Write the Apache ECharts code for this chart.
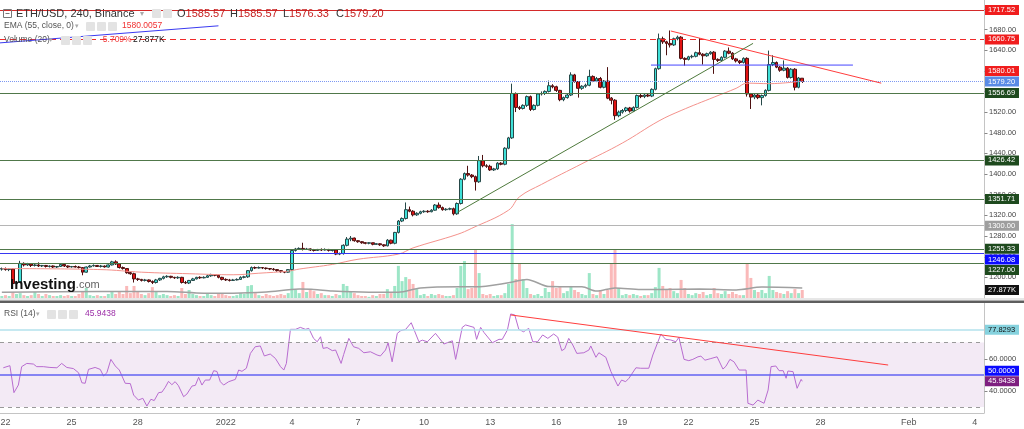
<!DOCTYPE html>
<html><head><meta charset="utf-8">
<script src="https://cdn.jsdelivr.net/npm/echarts/dist/echarts.min.js"></script>
<style>html,body{margin:0;padding:0;background:#fff;}#c{width:1024px;height:429px;}</style>
</head><body><div id="c"></div>
<script>
// ---------------- DATA ----------------
const START = Date.UTC(2021, 11, 21, 20); // first 4h slot
const SLOTS = 268;
const categories = Array.from({length: SLOTS}, (_, i) => new Date(START + i * 4 * 3600e3).toISOString().slice(0, 13));
const xTickDates  = ['2021-12-22','2021-12-25','2021-12-28','2022-01-01','2022-01-04','2022-01-07','2022-01-10','2022-01-13','2022-01-16','2022-01-19','2022-01-22','2022-01-25','2022-01-28','2022-02-01','2022-02-04'];
const xTickLabels = ['22','25','28','2022','4','7','10','13','16','19','22','25','28','Feb','4'];
const priceTicks = [1200,1240,1280,1320,1360,1400,1440,1480,1520,1560,1600,1640,1680,1720];
const rsiTicks = [40, 60];

// [open, close, low, high]
const candles = [
[1216,1217,1213,1219],[1217,1215,1213,1219],[1215,1216,1212,1218],[1216,1188,1185,1218],[1188,1190,1186,1193],
[1190,1227,1189,1232],[1227,1224,1221,1229],[1224,1226,1222,1228],[1226,1223,1220,1227],[1223,1224,1221,1226],
[1224,1222,1220,1229],[1222,1223,1220,1224],[1223,1221,1219,1224],[1221,1222,1219,1223],[1222,1220,1218,1223],
[1220,1221,1218,1222],[1221,1225,1220,1226],[1225,1222,1220,1226],[1222,1220,1218,1223],[1220,1221,1219,1222],
[1221,1220,1219,1223],[1220,1219,1217,1222],[1219,1210,1204,1220],[1210,1220,1209,1221],[1220,1222,1219,1224],
[1222,1223,1221,1225],[1223,1221,1220,1224],[1221,1222,1219,1224],[1222,1220,1219,1223],[1220,1224,1219,1225],
[1224,1230,1223,1232],[1230,1226,1224,1233],[1226,1219,1217,1227],[1219,1217,1215,1221],[1217,1209,1207,1218],
[1209,1207,1205,1211],[1207,1197,1190,1209],[1197,1196,1193,1199],[1196,1194,1192,1197],[1194,1195,1192,1197],
[1195,1192,1190,1196],[1192,1190,1187,1194],[1190,1195,1188,1197],[1195,1198,1193,1199],[1198,1201,1196,1203],
[1201,1202,1199,1204],[1202,1200,1198,1203],[1200,1199,1197,1201],[1199,1200,1197,1202],[1200,1190,1188,1201],
[1190,1189,1187,1193],[1189,1194,1187,1195],[1194,1197,1193,1199],[1197,1200,1196,1201],[1200,1199,1197,1202],
[1199,1200,1198,1202],[1200,1203,1199,1205],[1203,1205,1201,1207],[1205,1204,1202,1206],[1204,1200,1198,1205],
[1200,1196,1194,1201],[1196,1195,1193,1198],[1195,1194,1192,1197],[1194,1195,1193,1197],[1195,1196,1194,1198],
[1196,1200,1195,1202],[1200,1201,1198,1203],[1201,1213,1199,1214],[1213,1219,1211,1221],[1219,1218,1216,1221],
[1218,1219,1217,1221],[1219,1218,1216,1220],[1218,1217,1215,1219],[1217,1216,1214,1218],[1216,1215,1213,1218],
[1215,1213,1211,1216],[1213,1211,1209,1214],[1211,1210,1208,1212],[1210,1215,1209,1216],[1215,1252,1213,1254],
[1252,1255,1250,1257],[1255,1256,1253,1258],[1256,1254,1252,1267],[1254,1255,1253,1257],[1255,1253,1251,1256],
[1253,1252,1250,1255],[1252,1254,1251,1255],[1254,1253,1251,1256],[1253,1254,1252,1256],[1254,1252,1250,1255],
[1252,1253,1250,1254],[1253,1245,1243,1254],[1245,1246,1243,1248],[1246,1262,1244,1264],[1262,1274,1260,1278],
[1274,1276,1270,1280],[1276,1271,1269,1277],[1271,1269,1267,1272],[1269,1267,1265,1270],[1267,1266,1264,1268],
[1266,1267,1264,1268],[1267,1264,1262,1267],[1264,1265,1263,1266],[1265,1263,1261,1266],[1263,1261,1259,1264],
[1261,1272,1260,1274],[1272,1266,1264,1273],[1266,1287,1264,1288],[1287,1309,1285,1311],[1309,1314,1307,1316],
[1314,1331,1312,1345],[1331,1328,1326,1337],[1328,1321,1318,1330],[1321,1324,1319,1326],[1324,1327,1322,1329],
[1327,1328,1325,1330],[1328,1327,1325,1330],[1327,1330,1326,1332],[1330,1340,1329,1342],[1340,1335,1333,1345],
[1335,1331,1329,1337],[1331,1332,1329,1334],[1332,1333,1330,1335],[1333,1323,1320,1335],[1323,1343,1321,1345],
[1343,1390,1341,1392],[1390,1401,1388,1403],[1401,1398,1395,1416],[1398,1395,1392,1400],[1395,1385,1368,1397],
[1385,1426,1383,1435],[1426,1416,1413,1437],[1416,1415,1412,1419],[1415,1408,1406,1418],[1408,1410,1406,1412],
[1410,1421,1408,1423],[1421,1419,1417,1423],[1419,1450,1417,1452],[1450,1470,1448,1472],[1470,1556,1468,1575],
[1556,1529,1520,1558],[1529,1527,1524,1532],[1527,1533,1525,1535],[1533,1550,1530,1552],[1550,1525,1522,1552],
[1525,1533,1523,1535],[1533,1555,1531,1557],[1555,1556,1552,1560],[1556,1560,1553,1562],[1560,1571,1558,1581],
[1571,1569,1566,1574],[1569,1562,1559,1571],[1562,1544,1541,1563],[1544,1548,1541,1550],[1548,1553,1546,1555],
[1553,1592,1551,1597],[1592,1579,1577,1594],[1579,1566,1548,1580],[1566,1570,1563,1572],[1570,1572,1567,1575],
[1572,1589,1570,1602],[1589,1580,1578,1591],[1580,1585,1578,1588],[1585,1568,1566,1588],[1568,1580,1566,1582],
[1580,1547,1545,1607],[1547,1543,1535,1549],[1543,1513,1505,1545],[1513,1520,1510,1523],[1520,1523,1517,1526],
[1523,1528,1520,1530],[1528,1522,1519,1530],[1522,1529,1520,1531],[1529,1552,1527,1554],[1552,1550,1547,1555],
[1550,1553,1547,1556],[1553,1551,1549,1555],[1551,1564,1549,1566],[1564,1604,1562,1606],[1604,1662,1602,1672],
[1662,1656,1652,1666],[1656,1653,1630,1658],[1653,1650,1645,1678],[1650,1662,1648,1664],[1662,1665,1659,1668],
[1665,1624,1622,1667],[1624,1622,1610,1626],[1622,1627,1620,1629],[1627,1628,1624,1631],[1628,1635,1626,1637],
[1635,1632,1630,1663],[1632,1629,1612,1634],[1629,1633,1627,1635],[1633,1636,1631,1638],[1636,1622,1594,1638],
[1622,1620,1617,1624],[1620,1626,1618,1628],[1626,1638,1624,1640],[1638,1634,1632,1645],[1634,1623,1621,1636],
[1623,1619,1616,1625],[1619,1616,1613,1621],[1616,1624,1614,1626],[1624,1555,1550,1626],[1555,1549,1526,1557],
[1549,1553,1545,1555],[1553,1548,1545,1556],[1548,1552,1533,1554],[1552,1562,1550,1564],[1562,1612,1560,1639],
[1612,1616,1609,1630],[1616,1607,1605,1618],[1607,1601,1598,1609],[1601,1605,1599,1620],[1605,1587,1585,1607],
[1587,1603,1585,1605],[1603,1568,1562,1605],[1568,1586,1566,1588],[1585.57,1579.20,1576.33,1585.57]
];

// volume in thousands
const volumes = [
7,10,7,21,14,17,10,7,10,21,14,7,14,10,7,7,10,7,10,7,7,14,21,35,10,7,10,7,7,14,
21,14,21,14,42,17,42,21,14,10,17,38,21,10,14,10,7,10,7,35,14,28,14,10,7,7,14,10,7,17,
14,10,7,7,10,17,14,42,45,17,10,7,14,10,7,10,14,10,17,101,28,17,56,21,28,24,14,17,10,10,
7,14,10,49,42,21,17,10,7,7,4,10,7,14,14,31,17,42,112,59,73,66,49,31,10,14,7,14,10,14,
10,7,7,10,35,112,129,31,35,171,87,14,10,14,7,10,10,17,49,258,66,119,66,35,14,10,14,7,35,21,
59,35,38,17,24,42,28,21,14,10,87,14,10,28,14,28,119,171,35,10,14,10,14,10,7,10,10,17,38,105,
42,28,35,24,17,63,35,14,10,17,14,21,10,14,35,17,14,24,14,21,14,10,10,119,70,28,21,28,17,77,
28,21,17,14,24,17,31,17,27.877
];
const volumeMA = [[0,20],[27,23],[45,23],[55,17],[63,17],[72,21],[81,31],[85,30],[90,24],[100,20],[108,20],[114,35],[125,39],[129,39],[138,53],[143,65],[149,40],[158,39],[162,24],[167,35],[174,30],[180,30],[190,31],[200,28],[207,38],[218,35]];

const ema55 = [[0,1217],[27,1215],[38,1210],[51,1207],[63,1205],[70,1208],[78,1212],[81,1216],[90,1225],[97,1235],[108,1245],[112,1257],[124,1283],[128,1295],[138,1330],[141,1356],[147,1380],[158,1420],[169,1460],[179,1503],[185,1523],[194,1549],[200,1566],[203,1576],[209,1575],[218,1580]];

const rsi14 = [[0.4,54.3],[2.2,55.6],[3.3,38.9],[4.5,43.6],[5.4,55],[6.8,57],[8.6,56.6],[9.5,55],[11.3,55],[13.1,54.5],[15,54.3],[16.3,57],[17.7,54.5],[19.5,53.8],[20.9,51.2],[21.8,45],[22.7,44.7],[23.6,53.3],[25.4,54.5],[26.8,53.3],[27.7,49.2],[28.6,51.2],[29.7,59.5],[30.9,55.4],[32,52.9],[33.6,44.7],[35,44.5],[35.9,37.4],[37.2,34.3],[38.4,35.4],[39.5,30.6],[40.6,34.8],[41.5,34],[42.7,38.9],[43.6,39.2],[44.5,42.2],[45.4,45.9],[46.3,43.8],[47.2,45.7],[48.1,43.2],[49.5,36.4],[50.4,38],[51.8,43],[52.7,43.4],[53.6,48.4],[54.5,43.6],[55.4,46.7],[56.6,46.7],[57.7,52.5],[58.6,52],[59.5,45.7],[60.4,43.6],[61.8,45.7],[63.6,47.1],[64.5,52.9],[65.4,52.1],[66.6,54],[67.7,63.2],[69,67.3],[70.4,67.8],[71.5,61.6],[73.1,62.8],[74.5,60.1],[75.9,55],[76.8,52.9],[77.5,57],[78.6,78.1],[80,78.1],[81.3,79.3],[82.7,78.1],[83.6,78.7],[84.9,72.5],[85.9,70.4],[86.8,73.5],[87.5,66.3],[88.6,66.8],[90,64.9],[90.9,65.3],[92.4,57],[93.1,62.5],[94.5,72.5],[95.8,67.3],[97.2,66.3],[98.6,63.6],[100.4,64.2],[102.2,62.2],[103.1,61.6],[104.5,65.3],[105.2,69.8],[106.3,58],[107.7,75.6],[108.6,77.2],[110,78.1],[111.5,82.2],[113.6,70.4],[114.5,71.4],[115.9,70.4],[118.1,75.6],[120.4,69],[121.3,69.8],[122.7,71],[123.6,59.5],[125.4,79.3],[126.3,80.8],[128.6,79.3],[129.3,71.9],[130.4,79.3],[131.3,76.2],[133.6,69.8],[135.4,71.9],[136.3,71.9],[137.7,77.7],[138.6,87.6],[139.7,87],[140.8,78.1],[142.1,76.6],[143.5,78.7],[144.6,70.4],[145.9,70.4],[147.3,74.6],[148.7,72.5],[150.3,75.2],[151.4,73.3],[152.5,64.9],[153.3,66],[154.4,72.5],[155.5,68.4],[156.6,63.2],[158.5,63.6],[159.9,65.3],[160.4,67.8],[161.8,60.8],[162.6,63.6],[164.5,60.8],[165.9,51.9],[167.8,43],[168.8,46.7],[169.9,45.7],[170.8,47.8],[172.7,54.3],[174,54],[176.2,54],[177.3,62.2],[178.7,70.4],[179.5,75.2],[180.8,71.9],[182.2,71.5],[183.6,70.4],[184.4,73.2],[185.8,59.5],[187.1,58.7],[188.2,59.5],[189.6,61.1],[190.4,61.5],[191.5,59],[193.1,60],[194.8,61.1],[196.4,53.5],[197.2,55.2],[198.3,59.5],[199.4,58],[200.8,52.9],[202.7,52.9],[203.2,32.3],[204.6,31.2],[205.9,34.3],[207.6,32.3],[208.7,40.5],[209.5,55],[210.8,55.4],[211.7,52.5],[212.8,52.5],[213.6,47.8],[214.1,52.3],[215.5,51.9],[216.6,41.6],[217.7,47.1],[218,45.9438]];

const priceLevels = [1717.52, 1660.75, 1556.69, 1426.42, 1351.71, 1300.00, 1255.33, 1246.08, 1227.00];
const emaLast = 1580.0057;
const volumeChangePct = -5.709;
const rsiLevels = [70, 50, 30];
const rsiMarker = 77.8293;
const redTrend   = [[182.2,1677],[239.5,1576]];
const greenTrend = [[124.1,1326],[204.6,1653]];
const blueSegment = [[176.8,1611],[231.8,1611]];
const blueTopLeft = [[-0.5,1654],[59,1687]];
const rsiTrend   = [[138.6,87],[241.4,56]];

// ---------------- STYLE ----------------
const levelLine  = ['#d42a2a','#f02a2a','#50784a','#50784a','#50784a','#b5b5b5','#50784a','#3737f2','#50784a'];
const levelType  = ['solid',[6,4],'solid','solid','solid','solid','solid','solid','solid'];
const levelTag   = ['#f01d1d','#f01d1d','#1e4a1e','#1e4a1e','#1e4a1e','#9e9e9e','#1e4a1e','#0a0aff','#1e4a1e'];
const levelShift = [0,0,0,0,0,0,0,6,6.5];
const FONT = '"Liberation Sans", Arial, sans-serif';

const last = candles[candles.length - 1];
const lastClose = last[1];
const lastVolume = volumes[volumes.length - 1];
const tickMap = new Map(xTickDates.map((d, k) => [d + 'T00', xTickLabels[k]]));
const isTick = (i, v) => tickMap.has(v);

const chart = echarts.init(document.getElementById('c'), null, {renderer: 'canvas'});
const hline = (v, color, type, width) => ({yAxis: v, lineStyle: {color, type, width: width || 1}});

chart.setOption({
  animation: false,
  backgroundColor: '#fff',
  grid: [
    {left: 0, right: 40, top: 0, height: 298, containLabel: false, outerBoundsMode: 'none'},
    {left: 0, right: 40, top: 303, height: 110, containLabel: false, outerBoundsMode: 'none'}
  ],
  xAxis: [
    {type: 'category', gridIndex: 0, data: categories, boundaryGap: true, show: false},
    {type: 'value', gridIndex: 0, min: -0.5, max: SLOTS - 0.5, show: false},
    {type: 'category', gridIndex: 1, data: categories, boundaryGap: true,
      axisLine: {onZero: false, lineStyle: {color: '#c4c4c4'}},
      axisTick: {interval: isTick, alignWithLabel: true, length: 3, lineStyle: {color: '#888'}},
      axisLabel: {interval: isTick, formatter: v => tickMap.get(v) || '', fontSize: 9, color: '#555', margin: 5, fontFamily: '"Liberation Sans Narrow", "Liberation Sans", sans-serif'},
      splitLine: {show: false}},
    {type: 'value', gridIndex: 1, min: -0.5, max: SLOTS - 0.5, show: false}
  ],
  yAxis: [
    {type: 'value', gridIndex: 0, position: 'right', min: 1160, max: 1737,
      axisLine: {show: true, onZero: false, lineStyle: {color: '#c4c4c4'}},
      axisTick: {show: false},
      axisLabel: {customValues: priceTicks, formatter: v => v.toFixed(2), fontSize: 7.5, color: '#444', margin: 5, fontFamily: FONT},
      splitLine: {show: false}},
    {type: 'value', gridIndex: 0, position: 'left', min: 0, max: 1040, show: false,
      axisTick: {show: false}, axisLabel: {show: false}, axisLine: {show: false, onZero: false}, splitLine: {show: false}},
    {type: 'value', gridIndex: 1, position: 'right', min: 26.3, max: 94.4,
      axisLine: {show: true, onZero: false, lineStyle: {color: '#c4c4c4'}},
      axisTick: {show: false},
      axisLabel: {customValues: rsiTicks, formatter: v => v.toFixed(4), fontSize: 7.5, color: '#444', margin: 5, fontFamily: FONT},
      splitLine: {show: false}}
  ],
  series: [
    {type: 'bar', xAxisIndex: 0, yAxisIndex: 1, barWidth: 3, z: 1,
      data: volumes.map((v, i) => ({value: v, itemStyle: {color: candles[i][1] >= candles[i][0] ? 'rgba(38,200,130,0.45)' : 'rgba(242,80,80,0.40)'}}))},
    {type: 'line', xAxisIndex: 1, yAxisIndex: 1, data: volumeMA, symbol: 'none', smooth: 0.3, z: 2,
      lineStyle: {color: '#a0a0a0', width: 1.5}},
    {type: 'candlestick', xAxisIndex: 0, yAxisIndex: 0, data: candles, barWidth: 3.2, z: 3,
      itemStyle: {color: '#3fe0d8', color0: '#e31212', borderColor: '#264848', borderColor0: '#4d1010', borderWidth: 1},
      markLine: {silent: true, symbol: ['none', 'none'], label: {show: false},
        data: priceLevels.map((v, k) => hline(v, levelLine[k], levelType[k], 1))
          .concat([hline(lastClose, '#7d98f2', 'dotted', 1)])}},
    {type: 'line', xAxisIndex: 1, yAxisIndex: 0, data: ema55, symbol: 'none', smooth: 0.4, z: 4,
      lineStyle: {color: '#f4928c', width: 1}},
    {type: 'line', xAxisIndex: 1, yAxisIndex: 0, data: redTrend, symbol: 'none', z: 5, lineStyle: {color: '#ff3d3d', width: 1}},
    {type: 'line', xAxisIndex: 1, yAxisIndex: 0, data: greenTrend, symbol: 'none', z: 5, lineStyle: {color: '#4e7a3c', width: 1}},
    {type: 'line', xAxisIndex: 1, yAxisIndex: 0, data: blueSegment, symbol: 'none', z: 5, lineStyle: {color: '#4545ff', width: 1}},
    {type: 'line', xAxisIndex: 1, yAxisIndex: 0, data: blueTopLeft, symbol: 'none', z: 5, lineStyle: {color: '#3a3af0', width: 1}},
    {type: 'line', xAxisIndex: 3, yAxisIndex: 2, data: rsi14, symbol: 'none', z: 4,
      lineStyle: {color: '#b86cd0', width: 1},
      markArea: {silent: true, itemStyle: {color: 'rgba(150,60,160,0.11)'}, data: [[{yAxis: rsiLevels[2]}, {yAxis: rsiLevels[0]}]]},
      markLine: {silent: true, symbol: ['none', 'none'], label: {show: false}, data: [
        hline(rsiLevels[0], '#9a9a9a', [4, 4], 1),
        hline(rsiLevels[2], '#9a9a9a', [4, 4], 1),
        hline(rsiLevels[1], '#6262f2', 'solid', 1.5),
        hline(rsiMarker, '#b3e2ec', 'solid', 1.5)
      ]}},
    {type: 'line', xAxisIndex: 3, yAxisIndex: 2, data: rsiTrend, symbol: 'none', z: 5, lineStyle: {color: '#ff3d3d', width: 1}}
  ]
});

// ---------------- OVERLAY TEXT / TAGS ----------------
const g = [];
const txt = (x, y, text, size, fill, extra) => g.push(Object.assign({type: 'text', x, y, z: 100,
  style: {text, font: size + 'px ' + FONT, fill, verticalAlign: 'middle'}}, extra || {}));
const box = (x, y, w, h, fill) => g.push({type: 'rect', z: 100, shape: {x, y, width: w, height: h, r: 1}, style: {fill}});

// axis ticks on the right (through the axis scales)
const axisX = Math.round(chart.convertToPixel({xAxisIndex: 1}, SLOTS - 0.5)) + 0.5;
priceTicks.forEach(v => { const y = Math.round(chart.convertToPixel({yAxisIndex: 0}, v)) + 0.5;
  g.push({type: 'line', z: 95, shape: {x1: axisX, y1: y, x2: axisX + 3, y2: y}, style: {stroke: '#888', lineWidth: 1}}); });
rsiTicks.forEach(v => { const y = Math.round(chart.convertToPixel({yAxisIndex: 2}, v)) + 0.5;
  g.push({type: 'line', z: 95, shape: {x1: axisX, y1: y, x2: axisX + 3, y2: y}, style: {stroke: '#888', lineWidth: 1}}); });

// separators
g.push({type: 'rect', z: 90, shape: {x: 0, y: 298.5, width: 1024, height: 1}, style: {fill: '#cfcfcf'}});
g.push({type: 'rect', z: 90, shape: {x: 0, y: 300.5, width: 1024, height: 2.5}, style: {fill: '#5e5e5e'}});

// legend line 1
g.push({type: 'rect', z: 100, shape: {x: 3.5, y: 9.5, width: 8, height: 8}, style: {fill: 'none', stroke: '#777', lineWidth: 1}});
g.push({type: 'line', z: 100, shape: {x1: 5.5, y1: 13.5, x2: 9.5, y2: 13.5}, style: {stroke: '#777', lineWidth: 1}});
txt(16, 13.5, 'ETH/USD, 240, Binance', 11, '#333');
txt(140, 13.5, '▾', 8, '#aaa');
box(152, 9, 9, 9, '#e3e3e3'); box(163, 9, 9, 9, '#e3e3e3');
const ohlc = [['O', last[0]], ['H', last[3]], ['L', last[2]], ['C', last[1]]];
ohlc.forEach(([k, v], n) => {
  g.push({type: 'text', x: 177 + n * 53, y: 13.5, z: 100, style: {
    text: '{k|' + k + '}{v|' + v.toFixed(2) + '}', verticalAlign: 'middle', font: '11px ' + FONT,
    rich: {k: {fill: '#333', font: '11px ' + FONT}, v: {fill: '#c62020', font: '11px ' + FONT}}}});
});
// legend line 2
txt(4, 26, 'EMA (55, close, 0)', 8.5, '#555');
txt(75, 26, '▾', 7, '#aaa');
box(86, 22, 9, 9, '#e3e3e3'); box(97, 22, 9, 9, '#e3e3e3'); box(108, 22, 9, 9, '#e3e3e3');
txt(122, 26, emaLast.toFixed(4), 8.5, '#f03030');
// legend line 3
txt(4, 40, 'Volume (20)', 8.5, '#555');
txt(49, 40, '▾', 7, '#aaa');
box(61, 36, 9, 9, '#e3e3e3'); box(72, 36, 9, 9, '#e3e3e3'); box(83, 36, 9, 9, '#e3e3e3');
txt(100, 40, volumeChangePct.toFixed(3) + '%', 8.5, '#f04040');
txt(133, 40, lastVolume.toFixed(3) + 'K', 8.5, '#111');
// RSI legend
txt(4, 314, 'RSI (14)', 8.5, '#555');
txt(36, 314, '▾', 7, '#aaa');
box(47, 310, 9, 9, '#e3e3e3'); box(58, 310, 9, 9, '#e3e3e3'); box(69, 310, 9, 9, '#e3e3e3');
txt(85, 314, rsi14[rsi14.length - 1][1].toFixed(4), 8.5, '#9c2fa8');
// logo
g.push({type: 'text', x: 10, y: 285, z: 100, style: {text: '{a|Investing}{b|.com}', verticalAlign: 'middle',
  rich: {a: {fill: '#111', font: 'bold 15px ' + FONT}, b: {fill: '#666', font: '11px ' + FONT}}}});

// right-axis tags
const tag = (axis, v, text, bg, fg, shift) => {
  const y = chart.convertToPixel({yAxisIndex: axis}, v) + (shift || 0);
  g.push({type: 'rect', z: 110, shape: {x: 985, y: y - 5, width: 34, height: 10}, style: {fill: bg}});
  g.push({type: 'text', z: 111, x: 988, y: y, style: {text, fill: fg, font: '7.5px ' + FONT, verticalAlign: 'middle'}});
};
priceLevels.forEach((v, k) => tag(0, v, v.toFixed(2), levelTag[k], '#fff', levelShift[k]));
tag(0, emaLast, emaLast.toFixed(2), '#f01d1d', '#fff', -10);
tag(0, lastClose, lastClose.toFixed(2), '#5a8be6', '#fff', 0);
tag(1, lastVolume, lastVolume.toFixed(3) + 'K', '#111', '#fff', 0);
tag(2, rsiMarker, rsiMarker.toFixed(4), '#86d2de', '#111', 0);
tag(2, rsiLevels[1], rsiLevels[1].toFixed(4), '#0a0aff', '#fff', -4);
tag(2, rsi14[rsi14.length - 1][1], rsi14[rsi14.length - 1][1].toFixed(4), '#7e1f80', '#fff', 0);

chart.setOption({graphic: g});
</script>
</body></html>
